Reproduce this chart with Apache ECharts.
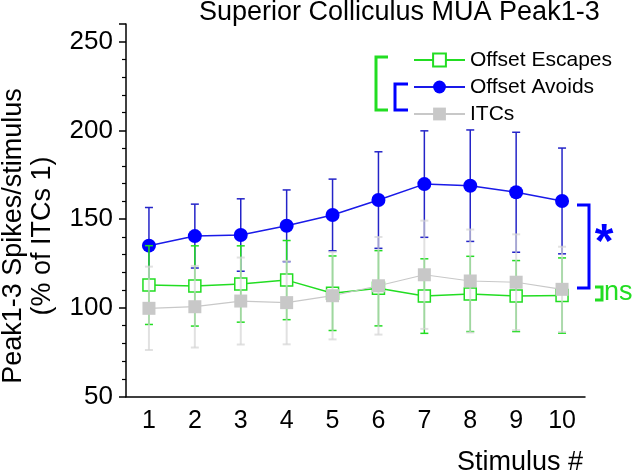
<!DOCTYPE html>
<html>
<head>
<meta charset="utf-8">
<script src="https://cdn.jsdelivr.net/npm/echarts@6/dist/echarts.min.js"></script>
<style>html,body{margin:0;padding:0;background:#fff}#c{width:640px;height:471px}</style>
</head>
<body>
<div id="c"></div>
<script>
const categories = ['1','2','3','4','5','6','7','8','9','10'];
const yTicks = [50, 100, 150, 200, 250];
const escapesMean = [112.9, 112.4, 113.5, 115.7, 108.3, 111.1, 106.7, 107.9, 106.7, 107.0];
const escapesErr  = [22.2, 22.6, 21.5, 22.3, 21.0, 21.2, 21.0, 21.2, 20.0, 21.2];
const avoidsMean  = [135.1, 140.5, 141.1, 146.3, 152.4, 160.8, 169.8, 168.9, 165.2, 160.3];
const avoidsErr   = [21.5, 18.0, 20.4, 20.2, 20.2, 27.2, 30.0, 31.4, 33.8, 29.8];
const itcMean     = [99.8, 100.7, 103.9, 103.0, 106.9, 112.5, 118.7, 115.2, 114.5, 110.5];
const itcErr      = [23.5, 23.0, 24.5, 23.5, 24.6, 27.5, 30.5, 29.0, 27.0, 24.0];

const FONT = '"Liberation Sans", Arial, sans-serif';
const GREEN = '#22dd22';
const BLUE = '#0000ff';

function errData(means, errs) {
  return means.map((m, i) => [i, m, errs[i]]);
}
function errRender(color, width, cap) {
  return function (params, api) {
    const i = api.value(0), m = api.value(1), e = api.value(2);
    const t = api.coord([i, m + e]);
    const b = api.coord([i, m - e]);
    const st = { stroke: color, lineWidth: width };
    return {
      type: 'group',
      children: [
        { type: 'line', shape: { x1: t[0], y1: t[1], x2: b[0], y2: b[1] }, style: st },
        { type: 'line', shape: { x1: t[0] - cap, y1: t[1], x2: t[0] + cap, y2: t[1] }, style: st },
        { type: 'line', shape: { x1: b[0] - cap, y1: b[1], x2: b[0] + cap, y2: b[1] }, style: st }
      ]
    };
  };
}

const chart = echarts.init(document.getElementById('c'), null, { renderer: 'canvas' });
chart.setOption({
  animation: false,
  backgroundColor: '#fff',
  title: {
    text: 'Superior Colliculus MUA Peak1-3',
    left: 199, top: -1, padding: 0,
    textStyle: { fontFamily: FONT, fontSize: 27, fontWeight: 'normal', color: '#000' }
  },
  grid: { left: 126, right: 55, top: 24, bottom: 74.3, containLabel: false },
  legend: {
    data: ['Offset Escapes', 'Offset Avoids', 'ITCs'],
    orient: 'vertical', left: 413, top: 49.5, padding: 0,
    itemWidth: 51, itemHeight: 16, itemGap: 6,
    textStyle: { fontFamily: FONT, fontSize: 21, color: '#000', lineHeight: 21 }
  },
  xAxis: {
    type: 'category', data: categories, boundaryGap: true,
    axisLine: { lineStyle: { color: '#000', width: 1.5 } },
    axisTick: { alignWithLabel: true, length: 7, lineStyle: { color: '#000', width: 1.5 } },
    axisLabel: { fontFamily: FONT, fontSize: 25, color: '#000', margin: 12 },
    splitLine: { show: false }
  },
  yAxis: {
    type: 'value', min: 50, max: 260, interval: 50,
    axisLine: { show: true, lineStyle: { color: '#000', width: 1.5 } },
    axisTick: { show: true, length: 7, lineStyle: { color: '#000', width: 1.5 } },
    minorTick: { show: true, splitNumber: 5, length: 4, lineStyle: { color: '#000', width: 1.2 } },
    axisLabel: {
      fontFamily: FONT, fontSize: 26, color: '#000', margin: 13,
      formatter: v => (yTicks.indexOf(v) >= 0 ? String(v) : '')
    },
    splitLine: { show: false }
  },
  series: [
    {
      type: 'custom', name: 'avoidsErr', z: 1, silent: true,
      renderItem: errRender('#2424c8', 1.5, 4),
      data: errData(avoidsMean, avoidsErr)
    },
    {
      type: 'line', name: 'Offset Avoids', z: 2, data: avoidsMean,
      symbol: 'circle', symbolSize: 14,
      itemStyle: { color: BLUE },
      lineStyle: { color: '#1a1ae8', width: 1.5 }
    },
    {
      type: 'custom', name: 'escapesErr', z: 3, silent: true,
      renderItem: errRender(GREEN, 1.5, 4),
      data: errData(escapesMean, escapesErr)
    },
    {
      type: 'line', name: 'Offset Escapes', z: 4, data: escapesMean,
      symbol: 'rect', symbolSize: 12,
      itemStyle: { color: '#ffffff', borderColor: GREEN, borderWidth: 1.5 },
      lineStyle: { color: GREEN, width: 1.5 }
    },
    {
      type: 'custom', name: 'itcErr', z: 5, silent: true,
      renderItem: errRender('rgba(212,212,212,0.7)', 2, 4),
      data: errData(itcMean, itcErr)
    },
    {
      type: 'line', name: 'ITCs', z: 6, data: itcMean,
      symbol: 'rect', symbolSize: 13,
      itemStyle: { color: '#c8c8c8' },
      lineStyle: { color: '#c8c8c8', width: 1.2 }
    }
  ],
  graphic: [
    { type: 'polyline', shape: { points: [[388, 57], [376, 57], [376, 110], [388, 110]] },
      style: { stroke: GREEN, lineWidth: 3, fill: null } },
    { type: 'polyline', shape: { points: [[408, 84], [395, 84], [395, 110], [408, 110]] },
      style: { stroke: BLUE, lineWidth: 3, fill: null } },
    { type: 'polyline', shape: { points: [[577, 205], [589, 205], [589, 288], [577, 288]] },
      style: { stroke: BLUE, lineWidth: 3, fill: null } },
    { type: 'polyline', shape: { points: [[595, 287], [602, 287], [602, 300], [595, 300]] },
      style: { stroke: GREEN, lineWidth: 3, fill: null } },
    { type: 'text', x: 604, y: 293, style: { text: 'ns', font: '27px ' + FONT, fill: GREEN,
      align: 'left', verticalAlign: 'middle' } },
    { type: 'text', x: 604, y: 244, style: { text: '*', font: 'bold 48px ' + FONT, fill: BLUE,
      align: 'center', verticalAlign: 'middle' } },
    { type: 'text', x: 28, y: 236, rotation: Math.PI / 2,
      style: { text: 'Peak1-3 Spikes/stimulus\n(% of ITCs 1)', font: '27px ' + FONT, fill: '#000',
        align: 'center', verticalAlign: 'middle', lineHeight: 29 } },
    { type: 'text', x: 583, y: 463, style: { text: 'Stimulus #', font: '27px ' + FONT, fill: '#000',
      align: 'right', verticalAlign: 'middle' } }
  ]
});
</script>
</body>
</html>
